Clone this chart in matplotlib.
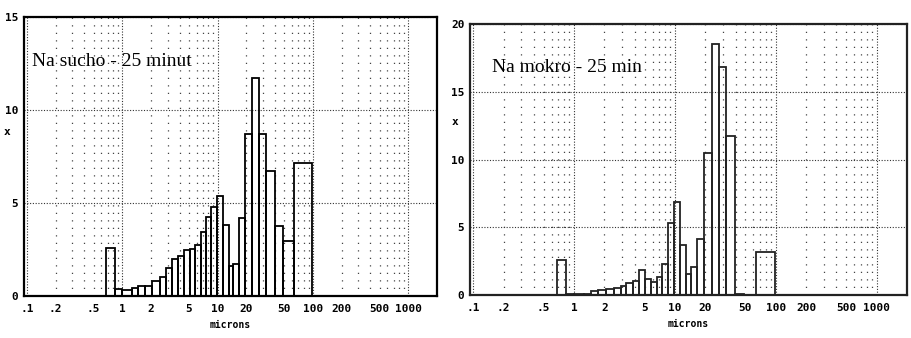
import matplotlib
matplotlib.use("Agg")
import matplotlib.pyplot as plt
from matplotlib.ticker import FixedLocator, FixedFormatter, NullFormatter

# ---- data ----
edges = [0.68, 0.84, 1.0, 1.25, 1.47, 1.72, 2.07, 2.47, 2.9, 3.3, 3.83, 4.4,
         5.07, 5.8, 6.7, 7.5, 8.5, 9.8, 11.3, 13.0, 14.5, 16.6, 19.4, 23.2,
         27.4, 32.2, 39.5, 48.0, 63.0, 98.0]
dry = [2.6, 0.35, 0.3, 0.42, 0.52, 0.55, 0.8, 1.0, 1.5, 2.0, 2.15, 2.45,
       2.55, 2.75, 3.45, 4.25, 4.8, 5.35, 3.8, 1.6, 1.7, 4.2, 8.7, 11.7,
       8.7, 6.7, 3.75, 2.95, 7.15]
wet = [2.6, 0.1, 0.1, 0.1, 0.3, 0.4, 0.45, 0.55, 0.65, 0.85, 1.07, 1.86,
       1.2, 0.95, 1.3, 2.3, 5.3, 6.9, 3.7, 1.55, 2.1, 4.1, 10.5, 18.5,
       16.8, 11.7, 0.1, 0.0, 3.2]

major_ticks = [0.1, 1, 10, 100, 1000]
major_labels = [".1", "1", "10", "100", "1000"]
minor_ticks = [m * d for d in [0.1, 1, 10, 100] for m in range(2, 10)]
minor_labels = {0.2: ".2", 0.5: ".5", 2: "2", 5: "5", 20: "20", 50: "50",
                200: "200", 500: "500"}

titles = ["Na sucho - 25 minut", "Na mokro - 25 min"]
yticks_list = [[0, 5, 10, 15], [0, 5, 10, 15, 20]]
ylims = [15, 19.8]

fig = plt.figure(figsize=(9.11, 3.38), dpi=100)
ax1 = fig.add_axes([24 / 911, 1 - 296 / 338, 413 / 911, 279 / 338])
ax2 = fig.add_axes([470 / 911, 1 - 295 / 338, 437 / 911, 271 / 338])

tickfont = dict(family="DejaVu Sans Mono", weight="bold", size=8)

for ax, vals, title, yt, ytop, col in [
        (ax1, dry, titles[0], yticks_list[0], ylims[0], "black"),
        (ax2, wet, titles[1], yticks_list[1], ylims[1], "#222222")]:
    ax.set_xscale("log")
    ax.set_xlim(0.093, 2000)
    ax.set_ylim(0, ytop)
    lefts = edges[:-1]
    widths = [b - a for a, b in zip(edges[:-1], edges[1:])]
    ax.bar(lefts, vals, width=widths, align="edge", fill=False,
           edgecolor=col, linewidth=1.3, zorder=3)

    ax.xaxis.set_major_locator(FixedLocator(major_ticks))
    ax.xaxis.set_major_formatter(FixedFormatter(major_labels))
    ax.xaxis.set_minor_locator(FixedLocator(minor_ticks))
    ax.xaxis.set_minor_formatter(
        FixedFormatter([minor_labels.get(round(t, 6), "") for t in minor_ticks]))
    ax.set_yticks(yt)
    ax.set_yticklabels([str(v) for v in yt])

    ax.tick_params(axis="both", which="both", length=0, pad=6, colors="black")
    for lab in ax.get_xticklabels(which="both") + ax.get_yticklabels():
        lab.set_fontfamily(tickfont["family"])
        lab.set_fontweight(tickfont["weight"])
        lab.set_fontsize(tickfont["size"])
    ax.tick_params(axis="y", pad=4)

    ax.grid(True, which="major", axis="x", color="#333333",
            linestyle=(0, (1, 1.5)), linewidth=0.8)
    ax.grid(True, which="minor", axis="x", color="#444444",
            linestyle=(0, (1, 5)), linewidth=0.9)
    ax.grid(True, which="major", axis="y", color="#333333",
            linestyle=(0, (1, 1.5)), linewidth=0.8)
    ax.set_axisbelow(True)

    for s in ax.spines.values():
        s.set_linewidth(1.6)
        s.set_color(col)

    ax.set_xlabel("microns", fontfamily="DejaVu Sans Mono", fontweight="bold",
                  fontsize=7, labelpad=4)
    ax.set_ylabel("x", fontfamily="DejaVu Sans Mono", fontweight="bold",
                  fontsize=8, rotation=0, labelpad=6)
    ax.text(0.02 if ax is ax1 else 0.05, 0.84, title,
            transform=ax.transAxes, fontfamily="Liberation Serif",
            fontsize=14, va="center", ha="left", zorder=4)

ax1.yaxis.set_label_coords(-0.04, 0.57)
ax2.yaxis.set_label_coords(-0.035, 0.62)

fig.savefig("out.png", dpi=100, facecolor="white")
